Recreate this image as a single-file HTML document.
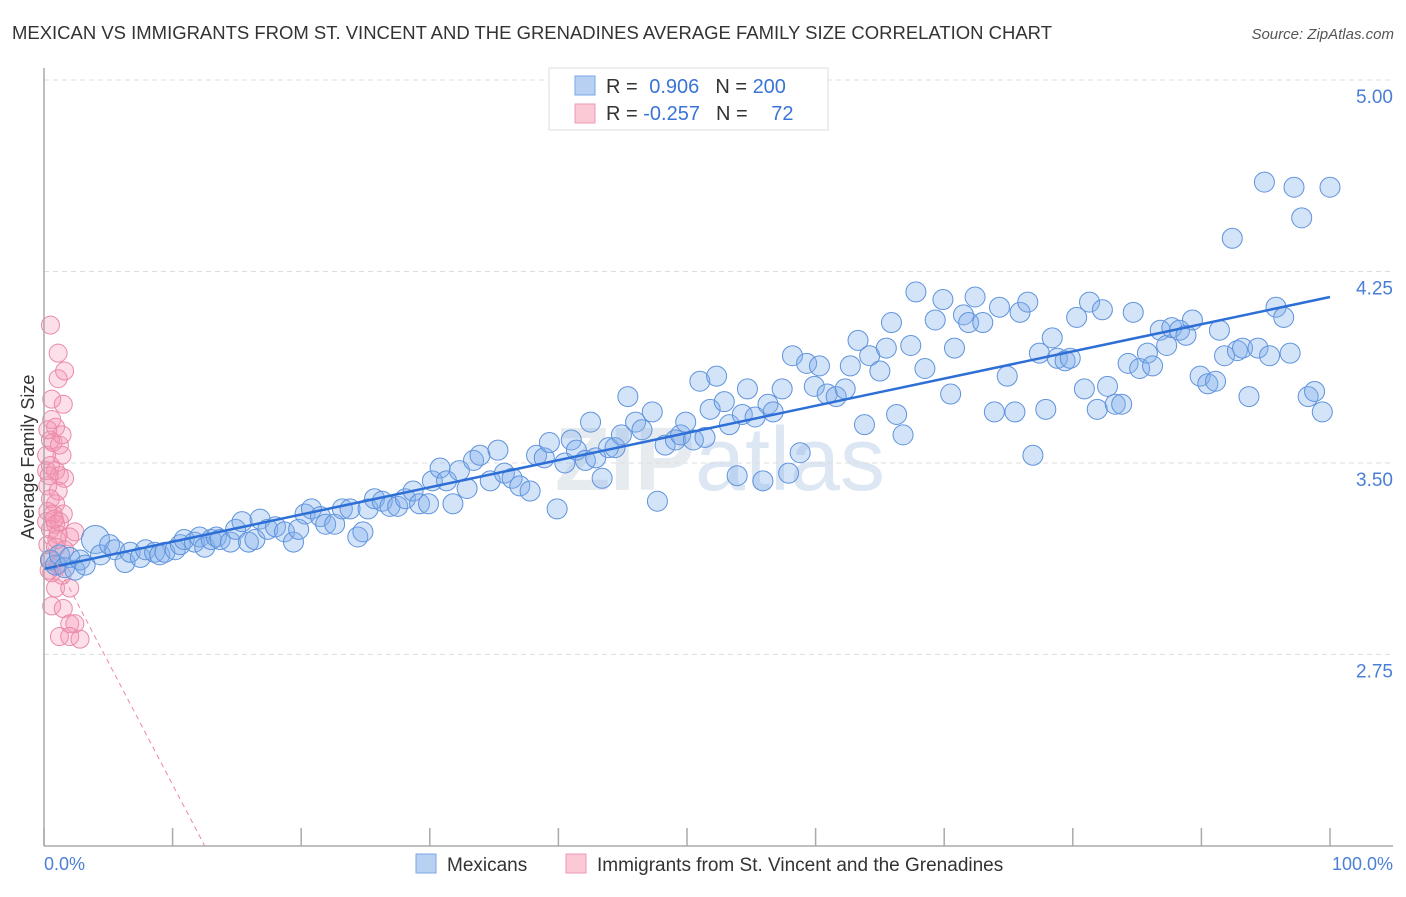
<!DOCTYPE html>
<html><head><meta charset="utf-8"><style>
body{margin:0;background:#fff;font-family:"Liberation Sans",sans-serif;}
svg text{font-family:"Liberation Sans",sans-serif;}
</style></head><body>
<svg id="chart" width="1406" height="892" viewBox="0 0 1406 892">
<text x="12" y="39" font-size="18" fill="#333" textLength="1040" lengthAdjust="spacingAndGlyphs">MEXICAN VS IMMIGRANTS FROM ST. VINCENT AND THE GRENADINES AVERAGE FAMILY SIZE CORRELATION CHART</text>
<text x="1394" y="39" font-size="15" fill="#555" font-style="italic" text-anchor="end">Source: ZipAtlas.com</text>
<text x="720" y="490" font-size="90" fill="#e6ebf0" text-anchor="middle" font-weight="bold">ZIP<tspan font-weight="normal" fill="#dde7f3">atlas</tspan></text>
<g id="grid"></g>
<g id="pink"></g><g id="blue"></g><g id="lines"></g>
<line x1="44" y1="68" x2="44" y2="846" stroke="#aaa" stroke-width="1.5"/>
<line x1="44" y1="846" x2="1393" y2="846" stroke="#aaa" stroke-width="1.5"/>
<g id="xticks"></g>
<text transform="translate(34,457) rotate(-90)" font-size="18" fill="#333" text-anchor="middle">Average Family Size</text>
<text x="44" y="870" font-size="18" fill="#4a7fd6">0.0%</text>
<text x="1393" y="870" font-size="18" fill="#4a7fd6" text-anchor="end">100.0%</text>
<g>
<rect x="549" y="68" width="279" height="62" fill="#fff" stroke="#ddd"/>
<rect x="575" y="76" width="20" height="19" fill="#b8d1f3" stroke="#7aa6e6"/>
<rect x="575" y="104" width="20" height="19" fill="#fbc8d6" stroke="#ef9ab3"/>
<text x="606" y="93" font-size="20" fill="#333">R = <tspan fill="#3a74d6" dx="6">0.906</tspan><tspan dx="16" fill="#333">N = </tspan><tspan fill="#3a74d6">200</tspan></text>
<text x="606" y="120" font-size="20" fill="#333">R = <tspan fill="#3a74d6">-0.257</tspan><tspan dx="16" fill="#333">N = </tspan><tspan fill="#3a74d6" dx="18">72</tspan></text>
</g>
<g>
<rect x="416" y="854" width="20" height="19" fill="#b8d1f3" stroke="#7aa6e6"/>
<text x="447" y="871" font-size="19" fill="#333">Mexicans</text>
<rect x="566" y="854" width="20" height="19" fill="#fbc8d6" stroke="#ef9ab3"/>
<text x="597" y="871" font-size="19" fill="#333">Immigrants from St. Vincent and the Grenadines</text>
</g>
</svg>
<script>
const yTicks=[5.00,4.25,3.50,2.75];
const xTickPcts=[0,10,20,30,40,50,60,70,80,90,100];
const blueX=[0.5,0.9,1.2,1.6,2.0,2.4,2.8,3.2,4.0,4.4,5.1,5.5,6.3,6.7,7.5,7.9,8.6,9.0,9.4,10.2,10.6,10.9,11.7,12.1,12.5,13.0,13.4,13.7,14.5,14.9,15.4,15.9,16.4,16.8,17.4,18.0,18.7,19.4,19.8,20.3,20.8,21.5,21.9,22.6,23.2,23.8,24.4,24.8,25.2,25.7,26.3,26.9,27.5,28.1,28.7,29.2,29.9,30.2,30.8,31.3,31.8,32.3,32.9,33.4,33.9,34.7,35.3,35.8,36.4,37.0,37.8,38.3,38.9,39.3,39.9,40.5,41.0,41.4,42.1,42.5,42.9,43.4,43.9,44.4,44.9,45.4,46.0,46.5,47.3,47.7,48.3,49.1,49.5,49.9,50.5,51.0,51.4,51.8,52.3,52.9,53.3,53.9,54.3,54.7,55.3,55.9,56.3,56.7,57.4,57.9,58.2,58.8,59.3,59.9,60.3,60.9,61.6,62.3,62.7,63.3,63.8,64.2,65.0,65.5,65.9,66.3,66.8,67.4,67.8,68.5,69.3,69.9,70.5,70.8,71.5,71.9,72.4,73.0,73.9,74.3,74.9,75.5,75.9,76.5,76.9,77.4,77.9,78.4,78.8,79.4,79.8,80.3,80.9,81.3,81.9,82.3,82.7,83.3,83.8,84.3,84.7,85.2,85.8,86.2,86.8,87.3,87.7,88.3,88.8,89.3,89.9,90.5,91.1,91.4,91.8,92.4,92.8,93.2,93.7,94.4,94.9,95.3,95.8,96.4,96.9,97.2,97.8,98.3,98.8,99.4,100];
const blueY=[3.12,3.10,3.14,3.09,3.13,3.08,3.12,3.10,3.20,3.14,3.18,3.16,3.11,3.15,3.13,3.16,3.15,3.14,3.15,3.16,3.18,3.20,3.19,3.21,3.17,3.20,3.21,3.20,3.19,3.24,3.27,3.19,3.20,3.28,3.24,3.25,3.23,3.19,3.24,3.30,3.32,3.29,3.26,3.26,3.32,3.32,3.21,3.23,3.32,3.36,3.35,3.33,3.33,3.36,3.39,3.34,3.34,3.43,3.48,3.43,3.34,3.47,3.40,3.51,3.53,3.43,3.55,3.46,3.44,3.41,3.39,3.53,3.52,3.58,3.32,3.50,3.59,3.55,3.51,3.66,3.52,3.44,3.56,3.56,3.61,3.76,3.66,3.63,3.70,3.35,3.57,3.59,3.61,3.66,3.59,3.82,3.60,3.71,3.84,3.74,3.65,3.45,3.69,3.79,3.68,3.43,3.73,3.70,3.79,3.46,3.92,3.54,3.89,3.80,3.88,3.77,3.76,3.79,3.88,3.98,3.65,3.92,3.86,3.95,4.05,3.69,3.61,3.96,4.17,3.87,4.06,4.14,3.77,3.95,4.08,4.05,4.15,4.05,3.70,4.11,3.84,3.70,4.09,4.13,3.53,3.93,3.71,3.99,3.91,3.90,3.91,4.07,3.79,4.13,3.71,4.10,3.80,3.73,3.73,3.89,4.09,3.87,3.93,3.88,4.02,3.96,4.03,4.02,4.00,4.06,3.84,3.81,3.82,4.02,3.92,4.38,3.94,3.95,3.76,3.95,4.60,3.92,4.11,4.07,3.93,4.58,4.46,3.76,3.78,3.70,4.58];
const pinkX=[0.5,1.1,1.1,1.6,0.6,1.5,0.6,0.9,0.5,0.7,1.4,0.5,0.9,1.2,1.6,0.3,1.1,0.5,0.9,0.3,0.7,1.5,0.2,0.9,1.2,0.5,1.1,2.0,2.4,0.3,0.9,1.6,0.5,1.1,0.6,1.4,0.9,2.0,0.6,1.5,2.0,2.4,1.2,2.0,2.8,0.2,0.2,0.3,1.2,1.4,0.4,0.8,1.0,0.4];
const pinkY=[4.04,3.93,3.83,3.86,3.75,3.73,3.67,3.64,3.59,3.58,3.53,3.49,3.47,3.45,3.44,3.41,3.39,3.36,3.34,3.31,3.30,3.30,3.27,3.26,3.27,3.24,3.22,3.21,3.23,3.18,3.17,3.16,3.12,3.10,3.07,3.06,3.01,3.01,2.94,2.93,2.87,2.87,2.82,2.82,2.81,3.47,3.53,3.63,3.57,3.61,3.45,3.28,3.20,3.08];
const blueFit=[3.085,4.15];
const pinkFit=[3.20,-6.4];
const NS='http://www.w3.org/2000/svg';
const xs=p=>44+p*12.86;
const ys=v=>80+(5-v)*255.3;
function mk(tag,attrs,parent){const e=document.createElementNS(NS,tag);for(const k in attrs)e.setAttribute(k,attrs[k]);document.getElementById(parent).appendChild(e);return e;}
yTicks.forEach(t=>{
 const l=mk('line',{x1:44,x2:1393,y1:ys(t),y2:ys(t),stroke:'#ddd','stroke-dasharray':'5,4'},'grid');
 
 
 const tx=mk('text',{x:1393,y:ys(t)+23,'font-size':19,fill:'#4a7fd6','text-anchor':'end'},'grid');
 tx.textContent=t.toFixed(2);
 
 
});
xTickPcts.forEach(p=>{
 const l=mk('line',{x1:xs(p),x2:xs(p),y1:828,y2:846,stroke:'#aaa','stroke-width':1.5},'xticks');
 
 
});
pinkX.forEach((x,i)=>{
 const c=mk('circle',{cx:xs(x),cy:ys(pinkY[i]),r:9,fill:'rgba(245,150,180,0.3)',stroke:'#e98aa8','stroke-width':1},'pink');
 
 
});
blueX.forEach((x,i)=>{
 const big=(i===8);
 const c=mk('circle',{cx:xs(x),cy:ys(blueY[i]),r:big?14:10,fill:'rgba(130,175,235,0.35)',stroke:'#5f93dc','stroke-width':1},'blue');
 
 
});
const bl=mk('line',{x1:xs(0),y1:ys(blueFit[0]),x2:xs(100),y2:ys(blueFit[1]),stroke:'#2d6fd6','stroke-width':2.5},'lines');


const pEnd=(2.0-pinkFit[0])/(pinkFit[1]-pinkFit[0])*100;
const pl=mk('line',{x1:xs(0),y1:ys(pinkFit[0]),x2:xs(pEnd),y2:ys(2.0),stroke:'#e98aa8','stroke-width':1,'stroke-dasharray':'5,4'},'lines');


</script>
</body></html>
